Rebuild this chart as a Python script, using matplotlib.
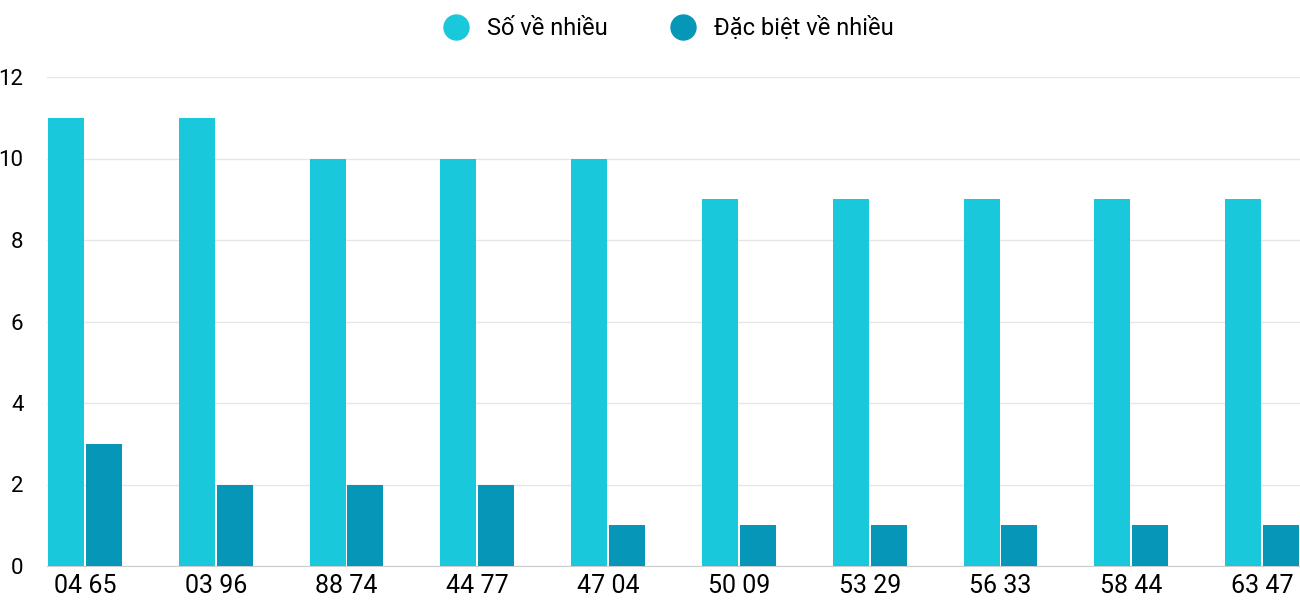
import matplotlib
matplotlib.use("Agg")
import matplotlib.pyplot as plt
from matplotlib.lines import Line2D
import numpy as np

plt.rcParams['font.family'] = ['Roboto', 'DejaVu Sans']

categories = ["04 65", "03 96", "88 74", "44 77", "47 04", "50 09", "53 29", "56 33", "58 44", "63 47"]
so_ve = [11, 11, 10, 10, 10, 9, 9, 9, 9, 9]
dac_biet = [3, 2, 2, 2, 1, 1, 1, 1, 1, 1]
c1, c2 = "#1ac8db", "#0696b8"

fig = plt.figure(figsize=(13, 6), dpi=100)
ax = fig.add_axes([47/1300, 34/600, 1253/1300, 489/600])
x = np.arange(len(categories))
w = 0.275
ax.bar(x - 0.145, so_ve, w, color=c1, zorder=3)
ax.bar(x + 0.145, dac_biet, w, color=c2, zorder=3)
ax.set_xlim(-0.29, 9.29)
ax.set_ylim(0, 12)
ax.set_yticks(range(0, 13, 2))
ax.set_xticks(x)
ax.set_xticklabels(categories, fontsize=18)
ax.tick_params(axis='y', labelsize=16, length=0, pad=17)
ax.tick_params(axis='x', length=0, pad=6)
ax.grid(axis='y', color='#e6e6e6', linewidth=1, zorder=0)
for s in ['top', 'right', 'left']:
    ax.spines[s].set_visible(False)
ax.spines['bottom'].set_color('#cccccc')

handles = [Line2D([], [], marker='o', linestyle='', markersize=18, color=c1),
           Line2D([], [], marker='o', linestyle='', markersize=18, color=c2)]
fig.legend(handles, ["Số về nhiều", "Đặc biệt về nhiều"], loc='center', bbox_to_anchor=(0.51, 0.953),
           ncol=2, frameon=False, fontsize=17, handletextpad=0.3, columnspacing=2.2)
fig.savefig("out.png", dpi=100, facecolor='white')
